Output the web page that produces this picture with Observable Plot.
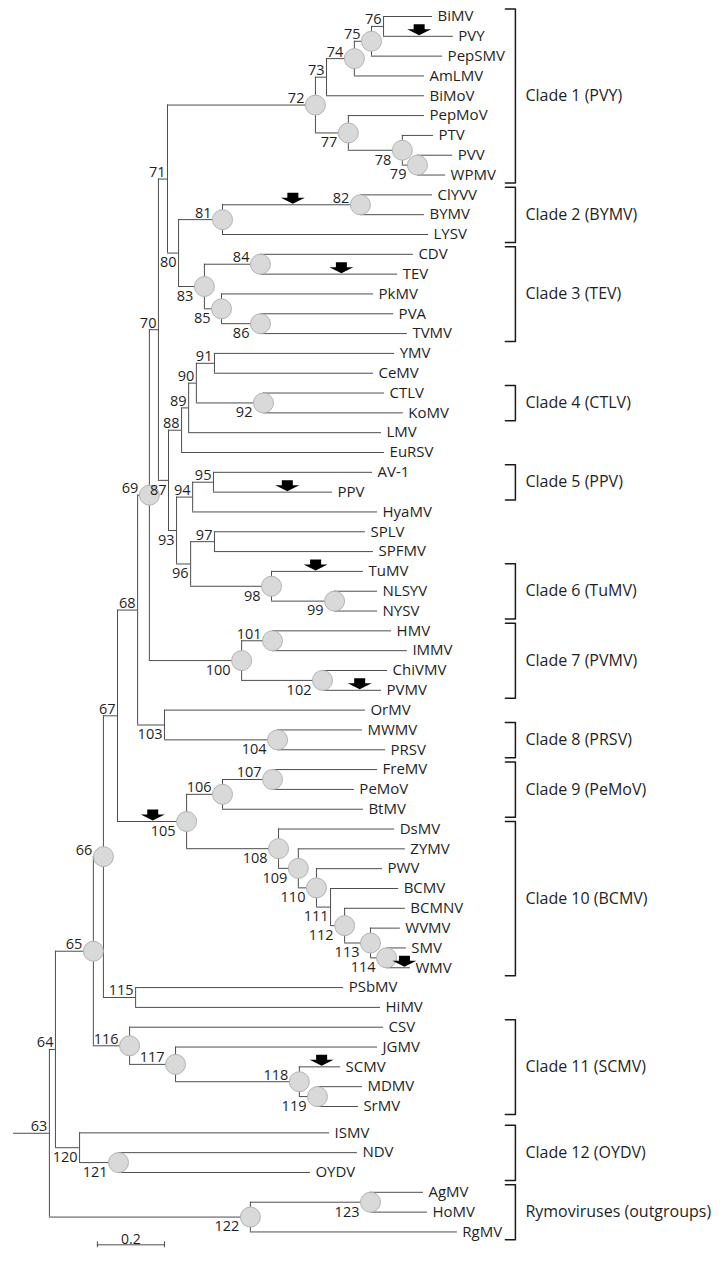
<!DOCTYPE html>
<html><head><meta charset="utf-8">
<script src="https://cdn.jsdelivr.net/npm/d3@7"></script>
<script src="https://cdn.jsdelivr.net/npm/@observablehq/plot@0.6"></script>
<style>html,body{margin:0;padding:0;background:#fff} svg{display:block}</style>
</head><body><div id="chart"></div>
<script>
// ---------------- DATA ----------------
const leafNames = ["BiMV","PVY","PepSMV","AmLMV","BiMoV","PepMoV","PTV","PVV","WPMV","ClYVV","BYMV","LYSV","CDV","TEV","PkMV","PVA","TVMV","YMV","CeMV","CTLV","KoMV","LMV","EuRSV","AV-1","PPV","HyaMV","SPLV","SPFMV","TuMV","NLSYV","NYSV","HMV","IMMV","ChiVMV","PVMV","OrMV","MWMV","PRSV","FreMV","PeMoV","BtMV","DsMV","ZYMV","PWV","BCMV","BCMNV","WVMV","SMV","WMV","PSbMV","HiMV","CSV","JGMV","SCMV","MDMV","SrMV","ISMV","NDV","OYDV","AgMV","HoMV","RgMV"];
// distance of each tip from the root (substitutions/site)
const leafDepth = [1.249,1.311,1.279,1.225,1.225,1.225,1.252,1.309,1.288,1.249,1.225,1.237,1.192,1.145,1.073,1.133,1.174,1.136,1.073,1.106,1.162,1.097,1.106,1.070,0.951,1.085,1.049,1.073,1.043,1.085,1.085,1.127,1.174,1.115,1.097,1.049,1.040,1.109,1.085,1.016,1.043,1.136,1.168,1.100,1.148,1.168,1.153,1.171,1.183,0.984,1.094,1.103,1.085,0.975,1.040,1.028,0.942,1.025,0.885,1.222,1.234,1.323];
const leafParent = [76,76,75,74,73,77,78,79,79,82,82,81,84,84,85,86,86,91,91,92,92,89,88,95,95,94,97,97,98,99,99,101,101,102,102,103,104,104,107,107,106,108,109,110,111,112,113,114,114,115,115,116,117,118,119,119,120,121,121,123,123,122];

const nodeIds =    [63,64,65,66,67,68,69,70,71,72,73,74,75,76,77,78,79,80,81,82,83,84,85,86,87,88,89,90,91,92,93,94,95,96,97,98,99,100,101,102,103,104,105,106,107,108,109,110,111,112,113,114,115,116,117,118,119,120,121,122,123];
const nodeParent = [null,63,64,65,66,67,68,69,70,71,72,73,74,75,72,77,78,71,80,81,80,83,83,85,70,87,88,89,90,90,87,93,94,93,96,96,98,69,100,100,68,103,67,105,106,105,108,109,110,111,112,113,66,65,116,117,118,64,120,63,122];
const nodeDepth =  [0.107,0.125,0.238,0.268,0.310,0.370,0.405,0.432,0.459,0.900,0.933,1.016,1.067,1.103,0.998,1.159,1.204,0.492,0.623,1.034,0.569,0.736,0.620,0.736,0.462,0.501,0.522,0.545,0.599,0.745,0.486,0.534,0.596,0.528,0.599,0.769,0.957,0.680,0.772,0.921,0.450,0.787,0.516,0.623,0.772,0.790,0.849,0.903,0.945,0.987,1.064,1.112,0.364,0.346,0.483,0.852,0.906,0.197,0.313,0.706,1.064];

// nodes marked with a grey circle
const markedNodes = [65,66,69,72,74,75,77,78,79,81,82,83,84,85,86,92,98,99,100,101,102,104,105,106,107,108,109,110,112,113,114,116,117,118,119,121,122,123];

// branches carrying a black arrow, and where along the branch (fraction) the arrow sits
const arrowBranches = ["PVY",82,"TEV","PPV","TuMV","PVMV",105,"WMV","SCMV"];
const arrowAt =       [0.51,0.51,0.59,0.62,0.48,0.63,0.51,0.75,0.54];

const cladeNames = ["Clade 1 (PVY)","Clade 2 (BYMV)","Clade 3 (TEV)","Clade 4 (CTLV)","Clade 5 (PPV)","Clade 6 (TuMV)","Clade 7 (PVMV)","Clade 8 (PRSV)","Clade 9 (PeMoV)","Clade 10 (BCMV)","Clade 11 (SCMV)","Clade 12 (OYDV)","Rymoviruses (outgroups)"];
const cladeFirst = ["BiMV","ClYVV","CDV","CTLV","AV-1","TuMV","HMV","MWMV","FreMV","DsMV","CSV","ISMV","AgMV"];
const cladeLast  = ["WPMV","LYSV","TVMV","KoMV","PPV","NYSV","PVMV","PRSV","BtMV","WMV","SrMV","OYDV","RgMV"];

const scaleBarLength = 0.2;
const scaleBarLabel = "0.2";

// ---------------- LAYOUT ----------------
const W = 724, H = 1265;
const pxPerUnit = 335.5, rootPx = 13, rowPx = 19.818, row0Px = 16;
const gapAfter = "SrMV", gapRows = 0.33;
const bracketX = 1.496, bracketTick = 10 / pxPerUnit;
const scaleBarX = 0.250;
const labelBelow = new Set([77,78,79,80,83,85,86,87,92,93,96,98,99,100,102,103,104,105,108,109,110,111,112,113,114,119,120,121,122,123]);

const nodes = new Map();
const gapIndex = leafNames.indexOf(gapAfter);
leafNames.forEach((name, i) => nodes.set(name, {id: name, leaf: true, depth: leafDepth[i], parent: leafParent[i], y: i + (i > gapIndex ? gapRows : 0)}));
nodeIds.forEach((id, i) => nodes.set(id, {id, leaf: false, depth: nodeDepth[i], parent: nodeParent[i], children: []}));
for (const n of nodes.values()) if (n.parent != null) nodes.get(n.parent).children.push(n);
function setY(n) {
  if (n.leaf) return n.y;
  const ys = n.children.map(setY);
  n.y1 = Math.min(...ys); n.y2 = Math.max(...ys);
  n.y = (n.y1 + n.y2) / 2;
  return n.y;
}
const root = nodes.get(nodeIds[0]);
setY(root);

const all = [...nodes.values()];
const internal = all.filter(n => !n.leaf);
const leaves = all.filter(n => n.leaf);
const horiz = all.map(n => ({x1: n.parent == null ? 0 : nodes.get(n.parent).depth, x2: n.depth, y: n.y}));
const marked = markedNodes.map(id => nodes.get(id));
const arrows = arrowBranches.map((id, i) => {
  const n = nodes.get(id), p = nodes.get(n.parent);
  return {x: p.depth + arrowAt[i] * (n.depth - p.depth), y: n.y};
});
const clades = cladeNames.map((name, i) => {
  const a = nodes.get(cladeFirst[i]).y, b = nodes.get(cladeLast[i]).y;
  return {name, top: a - 0.38, bottom: b + 0.4, mid: (a + b) / 2};
});
const bracketPts = clades.flatMap(c => [
  {c: c.name, x: bracketX - bracketTick, y: c.top},
  {c: c.name, x: bracketX, y: c.top},
  {c: c.name, x: bracketX, y: c.bottom},
  {c: c.name, x: bracketX - bracketTick, y: c.bottom}
]);
const lastRow = d3.max(leaves, d => d.y);
const sbY = lastRow + 0.65;

const arrowSymbol = {
  draw(ctx) {
    ctx.moveTo(-5.5, -12); ctx.lineTo(5.5, -12); ctx.lineTo(5.5, -7);
    ctx.lineTo(12, -7); ctx.lineTo(0, -1); ctx.lineTo(-12, -7);
    ctx.lineTo(-5.5, -7); ctx.closePath();
  }
};

const lineColor = "#4d4d4d";
const labelMark = (filter, dx, below) => Plot.text(internal.filter(filter), {
  x: "depth", y: "y", text: d => String(d.id), textAnchor: "end", dx,
  lineAnchor: below ? "top" : "bottom", dy: below ? 4 : -2, fontSize: 14.5
});
const isMarked = new Set(markedNodes);

const chart = Plot.plot({
  width: W, height: H, margin: 0,
  x: {domain: [-rootPx / pxPerUnit, (W - rootPx) / pxPerUnit], axis: null},
  y: {domain: [-row0Px / rowPx, (H - row0Px) / rowPx], reverse: true, axis: null},
  style: {fontFamily: "'Open Sans', sans-serif", fontSize: "15px", color: "#1f1f1f", background: "white"},
  marks: [
    Plot.ruleY(horiz, {y: "y", x1: "x1", x2: "x2", stroke: lineColor, strokeWidth: 1}),
    Plot.ruleX(internal, {x: "depth", y1: "y1", y2: "y2", stroke: lineColor, strokeWidth: 1}),
    Plot.dot(marked, {x: "depth", y: "y", r: 10, fill: "#d9d9d9", stroke: "#b3b3b3", strokeWidth: 1}),
    Plot.dot(arrows, {x: "x", y: "y", symbol: arrowSymbol, r: 6, fill: "black", stroke: null}),
    labelMark(d => labelBelow.has(d.id) && isMarked.has(d.id), -11, true),
    labelMark(d => labelBelow.has(d.id) && !isMarked.has(d.id), -2, true),
    labelMark(d => !labelBelow.has(d.id) && isMarked.has(d.id), -11, false),
    labelMark(d => !labelBelow.has(d.id) && !isMarked.has(d.id), -2, false),
    Plot.text(leaves, {x: "depth", y: "y", text: "id", textAnchor: "start", dx: 5, fontSize: 15}),
    Plot.line(bracketPts, {x: "x", y: "y", z: "c", stroke: "#1a1a1a", strokeWidth: 1.5}),
    Plot.text(clades, {x: () => bracketX, y: "mid", text: "name", textAnchor: "start", dx: 10, fontSize: 16}),
    Plot.ruleY([sbY], {y: d => d, x1: scaleBarX, x2: scaleBarX + scaleBarLength, stroke: lineColor}),
    Plot.ruleX([scaleBarX, scaleBarX + scaleBarLength], {x: d => d, y1: sbY - 0.15, y2: sbY + 0.15, stroke: lineColor}),
    Plot.text([scaleBarLabel], {x: scaleBarX + scaleBarLength / 2, y: sbY, text: d => d, lineAnchor: "bottom", dy: -1, fontSize: 14})
  ]
});
document.getElementById("chart").append(chart);
</script>
</body></html>
